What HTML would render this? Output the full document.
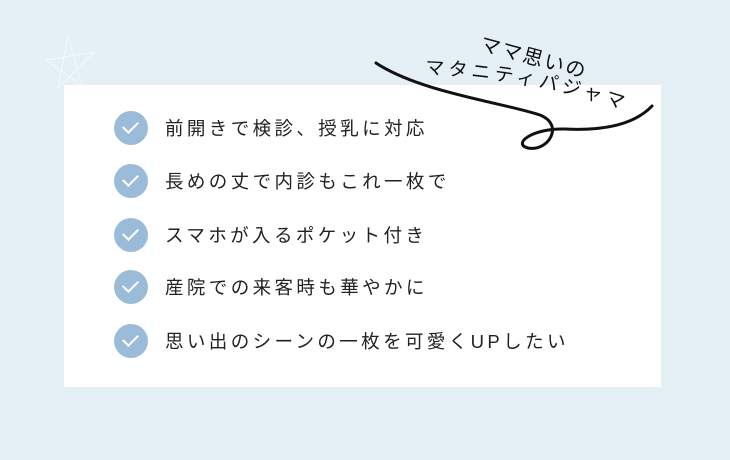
<!DOCTYPE html>
<html><head><meta charset="utf-8"><style>
body{margin:0;width:730px;height:460px;background:#e4eff6;position:relative;overflow:hidden;font-family:"Liberation Sans","Noto Sans CJK JP",sans-serif;}
.box{position:absolute;left:64px;top:85px;width:597px;height:302px;background:#fff;}
.row{position:absolute;left:114px;height:34px;display:flex;align-items:center;}
.c{width:34px;height:34px;border-radius:50%;background:#9bbcd9;position:relative;}
.c:after{content:"";position:absolute;width:13px;height:7px;border-left:2.5px solid #fff;border-bottom:2.5px solid #fff;transform:rotate(-45deg);top:10px;left:9px}
.t{margin-left:17px;font-size:18.5px;letter-spacing:3.4px;color:#222;}
svg{position:absolute;left:0;top:0}
</style></head><body>
<div class="box"></div>
<div class="row" style="top:111px"><div class="c"></div><div class="t">前開きで検診、授乳に対応</div></div>
<div class="row" style="top:164px"><div class="c"></div><div class="t">長めの丈で内診もこれ一枚で</div></div>
<div class="row" style="top:218px"><div class="c"></div><div class="t">スマホが入るポケット付き</div></div>
<div class="row" style="top:270px"><div class="c"></div><div class="t">産院での来客時も華やかに</div></div>
<div class="row" style="top:324px"><div class="c"></div><div class="t">思い出のシーンの一枚を可愛くUPしたい</div></div>
<svg width="730" height="460">
<path d="M68,36 L58,88 L94,52 L46,60 L82,86 Z" fill="none" stroke="#fff" stroke-width="1" opacity="0.6"/>
<path d="M376,63 C420,92 500,102 540,115 C565,125 548,152 528,148 C512,144 532,128 565,129 C605,131 635,124 652,106" fill="none" stroke="#111" stroke-width="3" stroke-linecap="round"/>
<text transform="translate(479,50) rotate(15)" font-size="20" letter-spacing="2" fill="#111" font-family="Liberation Sans,Noto Sans CJK JP,sans-serif">ママ思いの</text>
<path id="p2" d="M425,74 Q540,78 648,118" fill="none"/>
<text font-size="19" letter-spacing="4" fill="#111" font-family="Liberation Sans,Noto Sans CJK JP,sans-serif"><textPath href="#p2">マタニティパジャマ</textPath></text>
</svg>
</body></html>
